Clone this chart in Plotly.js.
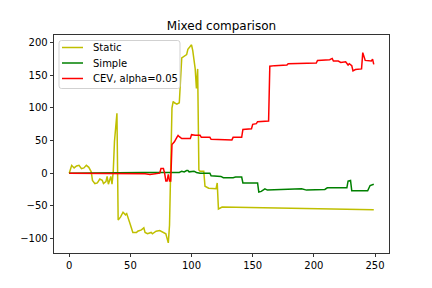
<!DOCTYPE html>
<html>
<head>
<meta charset="utf-8">
<script src="https://cdn.plot.ly/plotly-3.0.1.min.js"></script>
<style>html,body{margin:0;padding:0;background:#fff;}#chart{width:432px;height:288px;}</style>
</head>
<body>
<div id="chart"></div>
<script>
// Static series (x, y)
const staticX = [0,1,2,4,6,8,10,12,14,16,18,19,21,23,25,27,28,30,31,32,34,35,36,37,39,40,42,44,46,47,49,50,52,55,56,59,61,62,64,67,68,71,74,77,79,80,81,82,84,85,86,88,90,92,94,96,97,99,100,101,102,103,104,105,106,107,110,111,114,118,120,121,122,125,249];
const staticY = [0,7,12,8,11,12,7,8,12,9,2,-11,-16,-15,-9,-11,-16,-13,-5,-17,-5,-17,3,49,92,-72,-67,-60,-64,-62,-76,-79,-91,-91,-89,-87,-84,-91,-93,-91,-93,-89,-88,-91,-93,-100,-107,-80,100,110,108,106,108,177,180,182,190,195,197,188,172,160,130,160,5,3,3,-20,-23,-24,-24,-15,-55,-52,-56];

// Simple series
const simpleX = [0,30,60,75,90,92,94,96,97,98,100,102,104,107,115,116,124,126,134,136,141,142,154,155,157,160,162,174,190,194,209,211,227,228,230,231,244,246,249];
const simpleY = [0,1,1,1,1,3,2,4,4,2,2,3,1,0,0,-4,-5,-7,-7,-6,-6,-15,-15,-29,-28,-24,-26,-25,-24,-26,-25,-22.5,-22.5,-12,-11,-27,-27,-19,-17];

// CEV, alpha=0.05 series
const cevX = [0,20,40,55,62,66,70,73,74,75,77,78,79,80,81,82,83,84,86,88,89,90,92,99,100,103,107,108,115,116,126,133,134,141,142,149,150,153,154,163,164,168,178,179,202,203,213,215,216,220,222,226,228,229,231,232,234,239,240,242,247,248,249];
const cevY = [0,0,0,-1,-1,-2,-1,-1,0,7,7,0,-12,-12,-2,-12,-12,44,48,55,58,56,53,53,59,58,58,55,55,52,51,51,55,55,67,68,75,76,79,80,164,165,166,168,169,173,174,176,172,172,170,171,166,168,165,157,159,160,185,173,172,175,167];

const names = ["Static", "Simple", "CEV, alpha=0.05"];
const colors = ["#bfbf00", "#008000", "#ff0000"];
const xTicks = [0,50,100,150,200,250];
const yTicks = [-100,-50,0,50,100,150,200];

const series = [[staticX, staticY], [simpleX, simpleY], [cevX, cevY]];
const traces = series.map((s, i) => ({
  x: s[0], y: s[1], type: "scatter", mode: "lines", name: names[i],
  line: {color: colors[i], width: 1.5}, showlegend: false
}));

// Legend drawn in paper coordinates (matplotlib-style compact legend)
const pw = 335, ph = 218; // plot area size in px
const px = v => v / pw, py = v => v / ph;
const bx0 = px(5), bx1 = px(126), by1 = 1 - py(5.5), by0 = 1 - py(53.5);
const rx = px(2.5), ry = py(2.5);
const legendPath = `M ${bx0 + rx} ${by0} L ${bx1 - rx} ${by0} Q ${bx1} ${by0} ${bx1} ${by0 + ry} L ${bx1} ${by1 - ry} Q ${bx1} ${by1} ${bx1 - rx} ${by1} L ${bx0 + rx} ${by1} Q ${bx0} ${by1} ${bx0} ${by1 - ry} L ${bx0} ${by0 + ry} Q ${bx0} ${by0} ${bx0 + rx} ${by0} Z`;
const shapes = [{type: "path", xref: "paper", yref: "paper", path: legendPath,
  fillcolor: "rgba(255,255,255,0.8)", line: {color: "rgba(204,204,204,0.9)", width: 1}}];
const annotations = [];
names.forEach((n, i) => {
  const yy = 1 - py(12.5 + i * 15.5);
  shapes.push({type: "line", xref: "paper", yref: "paper", x0: px(8), x1: px(29), y0: yy, y1: yy,
    line: {color: colors[i], width: 1.5}});
  annotations.push({xref: "paper", yref: "paper", x: px(37), y: yy, xanchor: "left", yanchor: "middle",
    text: n, showarrow: false, font: {family: "DejaVu Sans", size: 10, color: "#000"}});
});

const axisCommon = {
  showgrid: false, zeroline: false, showline: true, linecolor: "#000", linewidth: 0.8,
  mirror: true, ticks: "outside", ticklen: 3.5, tickwidth: 0.8, tickcolor: "#000",
  tickfont: {family: "DejaVu Sans", size: 10, color: "#000"}
};

const layout = {
  width: 432, height: 288,
  margin: {l: 54, r: 43, t: 35, b: 35},
  paper_bgcolor: "#fff", plot_bgcolor: "#fff",
  font: {family: "DejaVu Sans", size: 10, color: "#000"},
  title: {text: "Mixed comparison", font: {family: "DejaVu Sans", size: 12, color: "#000"},
          xref: "paper", x: 0.5, xanchor: "center", y: 1 - 26/288, yanchor: "middle"},
  xaxis: Object.assign({}, axisCommon, {range: [-12.45, 261.45], tickvals: xTicks, ticktext: xTicks.map(String)}),
  yaxis: Object.assign({}, axisCommon, {range: [-122.5, 212], tickvals: yTicks, ticktext: yTicks.map(v => v < 0 ? "\u2212" + Math.abs(v) : String(v))}),
  showlegend: false,
  shapes: shapes,
  annotations: annotations
};

Plotly.newPlot("chart", traces, layout, {displayModeBar: false, staticPlot: true});
</script>
</body>
</html>
